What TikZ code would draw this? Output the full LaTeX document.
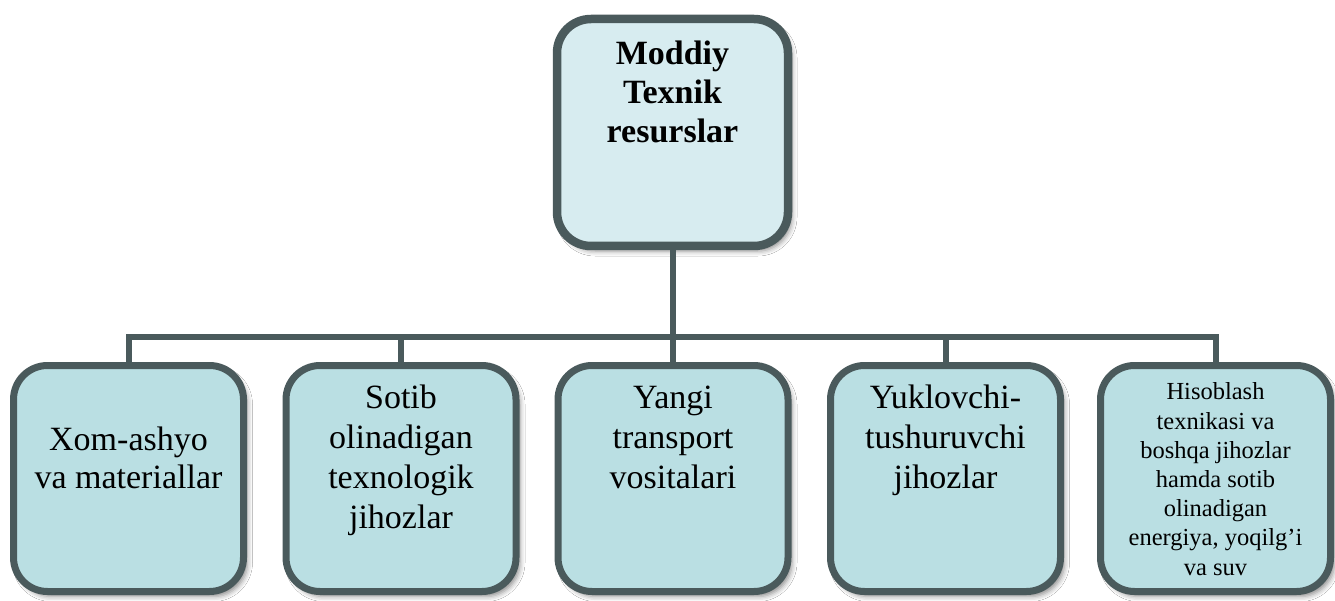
\documentclass[tikz,border=0pt]{standalone}
\usepackage{fontspec}
\setmainfont{Liberation Serif}
\usetikzlibrary{shadows.blur}
\definecolor{edge}{RGB}{74,90,92}
\definecolor{rootfill}{RGB}{215,236,240}
\definecolor{leaffill}{RGB}{186,223,227}
\tikzset{
  box/.style={draw=edge, rectangle, rounded corners=34pt, inner sep=0pt, outer sep=0pt,
    minimum width=230pt, minimum height=226pt,
    blur shadow={shadow xshift=4pt, shadow yshift=-5pt, shadow blur radius=5pt, shadow opacity=45}},
  rootbox/.style={box, fill=rootfill, line width=8.5pt, minimum width=231pt, minimum height=227pt},
  leafbox/.style={box, fill=leaffill, line width=7pt},
  conn/.style={draw=edge, line width=6pt, line join=miter},
  txt/.style={anchor=base, align=center, inner sep=0pt, text=black}
}
\begin{document}
\begin{tikzpicture}[x=1pt, y=-1pt]
\useasboundingbox (0,0) rectangle (1335,601);
\fill[white] (0,0) rectangle (1335,601);

% level of the horizontal bus line
\coordinate (bus) at (0,337);

% root box
\node[rootbox] (root) at (672.5,132.5) {};

% leaf boxes
\node[leafbox] (b1) at (128.5,478.5) {};
\node[leafbox] (b2) at (401,478.5) {};
\node[leafbox] (b3) at (673,478.5) {};
\node[leafbox] (b4) at (945.5,478.5) {};
\node[leafbox] (b5) at (1215.5,478.5) {};

% connectors
\draw[conn] (root.south) -- (root.south |- bus);
\draw[conn] (b1.north) -- (b1.north |- bus) -- (b5.north |- bus) -- (b5.north);
\draw[conn] (b2.north) -- (b2.north |- bus);
\draw[conn] (b3.north) -- (b3.north |- bus);
\draw[conn] (b4.north) -- (b4.north |- bus);

% texts, placed by the baseline of their last line
\node[txt, font=\fontsize{34}{39}\selectfont\bfseries] (t0) at (672.5,143) {Moddiy\\Texnik\\resurslar};
\node[txt, font=\fontsize{34}{38}\selectfont] (t1) at (128.5,488) {Xom-ashyo\\va materiallar};
\node[txt, font=\fontsize{34}{40}\selectfont] (t2) at (401,528) {Sotib\\olinadigan\\texnologik\\jihozlar};
\node[txt, font=\fontsize{34}{40}\selectfont] (t3) at (673,488) {Yangi\\transport\\vositalari};
\node[txt, font=\fontsize{34}{40}\selectfont] (t4) at (945.5,488) {Yuklovchi-\\tushuruvchi\\jihozlar};
\node[txt, font=\fontsize{24.5}{29.2}\selectfont] (t5) at (1215.5,575) {Hisoblash\\texnikasi va\\boshqa jihozlar\\hamda sotib\\olinadigan\\energiya, yoqilg’i\\va suv};
\end{tikzpicture}
\end{document}
